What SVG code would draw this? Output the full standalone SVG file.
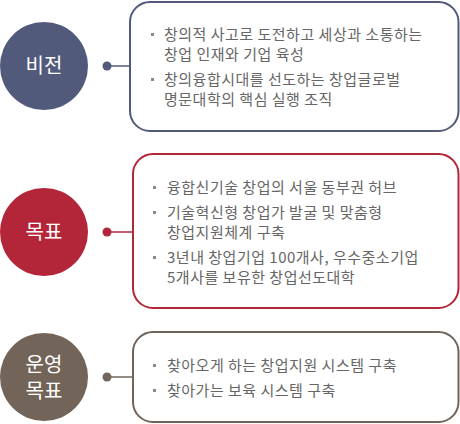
<svg xmlns="http://www.w3.org/2000/svg" width="460" height="424" viewBox="0 0 460 424">
<style>
.t{font-family:"Noto Sans CJK KR","Noto Sans",sans-serif;font-size:15px;letter-spacing:0.5px;fill:#666}
.c{font-family:"Noto Sans CJK KR","Noto Sans",sans-serif;font-size:20px;fill:#fff;text-anchor:middle}
.box{fill:#fff;stroke-width:2}
.b{fill:#8a8a8a}
</style>
<rect width="460" height="424" fill="#fff"/>
<g id="connectors">
<line x1="107" y1="66" x2="130" y2="66" stroke="#515a7a" stroke-width="1.5"/>
<circle cx="107" cy="66" r="4.5" fill="#515a7a"/>
<line x1="107" y1="232" x2="133" y2="232" stroke="#b32538" stroke-width="1.5"/>
<circle cx="107" cy="232" r="4.5" fill="#b32538"/>
<line x1="107" y1="377" x2="133" y2="377" stroke="#726458" stroke-width="1.5"/>
<circle cx="107" cy="377" r="4.5" fill="#726458"/>
</g>
<g id="vision">
<circle cx="44" cy="66" r="44" fill="#515a7a"/>
<text class="c" x="44" y="73">비전</text>
</g>
<g id="vision-box">
<rect class="box" x="130" y="2" width="328.5" height="129" rx="20" stroke="#515a7a"/>
<rect class="b" x="151" y="33" width="3" height="3"/>
<text class="t" x="164" y="40">창의적 사고로 도전하고 세상과 소통하는</text>
<text class="t" x="164" y="60">창업 인재와 기업 육성</text>
<rect class="b" x="151" y="78" width="3" height="3"/>
<text class="t" x="164" y="85">창의융합시대를 선도하는 창업글로벌</text>
<text class="t" x="164" y="105">명문대학의 핵심 실행 조직</text>
</g>
<g id="goal">
<circle cx="44" cy="232" r="44" fill="#b32538"/>
<text class="c" x="44" y="239">목표</text>
</g>
<g id="goal-box">
<rect class="box" x="133" y="154" width="325.5" height="154" rx="20" stroke="#b32538"/>
<rect class="b" x="153" y="186" width="3" height="3"/>
<text class="t" x="167" y="193">융합신기술 창업의 서울 동부권 허브</text>
<rect class="b" x="153" y="211" width="3" height="3"/>
<text class="t" x="167" y="218">기술혁신형 창업가 발굴 및 맞춤형</text>
<text class="t" x="167" y="238">창업지원체계 구축</text>
<rect class="b" x="153" y="256" width="3" height="3"/>
<text class="t" x="167" y="263">3년내 창업기업 100개사, 우수중소기업</text>
<text class="t" x="167" y="283">5개사를 보유한 창업선도대학</text>
</g>
<g id="operation">
<circle cx="44" cy="377" r="44" fill="#726458"/>
<text class="c" x="44" y="372">운영<tspan x="44" dy="26">목표</tspan></text>
</g>
<g id="operation-box">
<rect class="box" x="133" y="332" width="325.5" height="90" rx="20" stroke="#726458"/>
<rect class="b" x="153" y="364" width="3" height="3"/>
<text class="t" x="167" y="371">찾아오게 하는 창업지원 시스템 구축</text>
<rect class="b" x="153" y="389" width="3" height="3"/>
<text class="t" x="167" y="396">찾아가는 보육 시스템 구축</text>
</g>
</svg>
